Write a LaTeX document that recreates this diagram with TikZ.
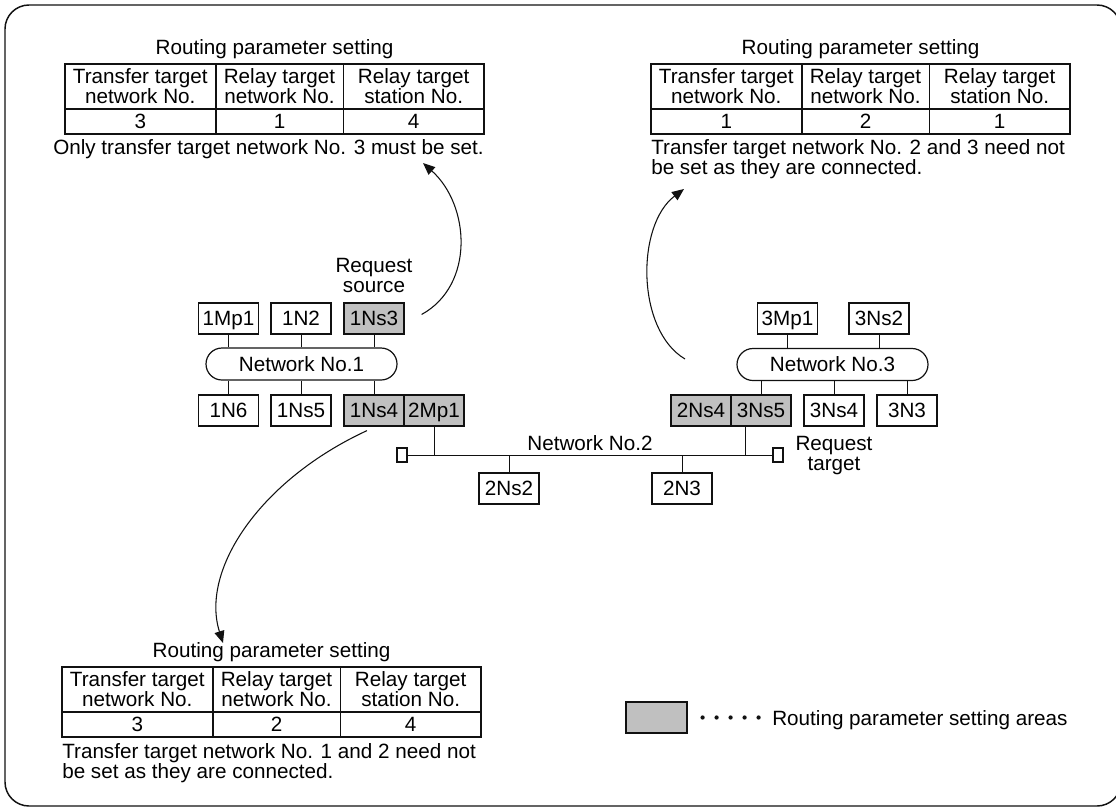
\documentclass[tikz,border=0pt]{standalone}
\usepackage{fontspec}
\setmainfont{Liberation Sans}
\usetikzlibrary{positioning,arrows.meta,calc}
\definecolor{ink}{HTML}{111111}
\definecolor{area}{HTML}{C0C0C0}

\tikzset{
  stn/.style={draw=ink,line width=0.9pt,minimum width=45pt,minimum height=23.25pt,inner sep=0pt,text height=11pt,text depth=0pt},
  rpa/.style={stn,fill=area},
  netw/.style={draw=ink,line width=0.9pt,rounded corners=12pt,minimum width=143.25pt,minimum height=24pt,inner sep=0pt},
  term/.style={draw=ink,line width=0.8pt,minimum width=7.5pt,minimum height=10.5pt,inner sep=0pt},
  wire/.style={ink,line width=0.75pt},
  hcell/.style={draw=ink,line width=0.5pt,align=center,minimum height=33pt,inner sep=0pt},
  dcell/.style={draw=ink,line width=0.5pt,minimum height=18.75pt,inner sep=0pt},
  jump/.style={ink,line width=0.8pt,-{Triangle[length=9pt,width=7.5pt]}},
  txt/.style={inner sep=0pt,align=left}
}

% routing parameter table: prefix, top left corner, three values
\newcommand{\rptable}[5]{%
  \node[hcell,minimum width=112.5pt,anchor=north west] (#1h1) at (#2) {Transfer target\\network No.};
  \node[hcell,minimum width=95.25pt,anchor=west] (#1h2) at (#1h1.east) {Relay target\\network No.};
  \node[hcell,minimum width=105pt,anchor=west] (#1h3) at (#1h2.east) {Relay target\\station No.};
  \node[dcell,minimum width=112.5pt,anchor=north] (#1d1) at (#1h1.south) {#3};
  \node[dcell,minimum width=95.25pt,anchor=north] (#1d2) at (#1h2.south) {#4};
  \node[dcell,minimum width=105pt,anchor=north] (#1d3) at (#1h3.south) {#5};
  \draw[ink,line width=1.3pt] (#1h1.north west) rectangle (#1d3.south east);
  \node[anchor=base,inner sep=0pt] (#1t) at ($(#1h1.north west)!0.5!(#1h3.north east)+(0,-10)$) {Routing parameter setting};
}

\begin{document}
\begin{tikzpicture}[x=0.75pt,y=-0.75pt,font=\fontsize{15.5}{15}\selectfont]
  \useasboundingbox (0,0) rectangle (1116,807);
  \draw[ink,line width=1.1pt,rounded corners=18pt] (5,5) rectangle (1121,806);

  % tables
  \rptable{tl}{65,64}{3}{1}{4}
  \node[anchor=base west,inner sep=0pt] (tlnote) at (53,154) {Only transfer target network No. 3 must be set.};

  \rptable{tr}{651,64}{1}{2}{1}
  \node[txt,anchor=north west] (trnote) at (651,139) {Transfer target network No. 2 and 3 need not\\be set as they are connected.};

  \rptable{bl}{62,667}{3}{2}{4}
  \node[txt,anchor=north west] (blnote) at (62,743) {Transfer target network No. 1 and 2 need not\\be set as they are connected.};

  % network No.1
  \node[netw] (net1) at (301.5,364) {Network No.1};
  \node[stn] (n1mp1) at (228.5,318.5) {1Mp1};
  \node[stn] (n1n2) at (301,318.5) {1N2};
  \node[rpa] (n1ns3) at (374,318.5) {1Ns3};
  \node[stn] (n1n6) at (228.5,410.5) {1N6};
  \node[stn] (n1ns5) at (301,410.5) {1Ns5};
  \node[rpa] (n1ns4) at (374,410.5) {1Ns4};
  \node[rpa] (n2mp1) at (434,410.5) {2Mp1};
  \node[txt,align=center,anchor=north] (rsrc) at (374,258) {Request\\source};

  \foreach \s in {n1mp1,n1n2,n1ns3}
    \draw[wire] (\s.south) -- (\s.south |- net1.north);
  \foreach \s in {n1n6,n1ns5,n1ns4}
    \draw[wire] (\s.north) -- (\s.north |- net1.south);

  % network No.3
  \node[netw] (net3) at (832.5,364.5) {Network No.3};
  \node[stn] (n3mp1) at (787.5,318.5) {3Mp1};
  \node[stn] (n3ns2) at (879,318.5) {3Ns2};
  \node[rpa] (n2ns4) at (701,410.5) {2Ns4};
  \node[rpa] (n3ns5) at (761,410.5) {3Ns5};
  \node[stn] (n3ns4) at (834,410.5) {3Ns4};
  \node[stn] (n3n3) at (907,410.5) {3N3};

  \foreach \s in {n3mp1,n3ns2}
    \draw[wire] (\s.south) -- (\s.south |- net3.north);
  \foreach \s in {n3ns5,n3ns4,n3n3}
    \draw[wire] (\s.north) -- (\s.north |- net3.south);

  % network No.2
  \node[term] (t2a) at (402,455) {};
  \node[term] (t2b) at (778,455) {};
  \draw[wire] (t2a) -- (t2b);
  \node[anchor=base,inner sep=0pt] (net2) at (590,450) {Network No.2};
  \node[stn] (n2ns2) at (509,488.5) {2Ns2};
  \node[stn] (n2n3) at (682,488.5) {2N3};
  \coordinate (n3drop) at ($(n3ns5.south)+(-16,0)$);
  \draw[wire] (n2mp1.south) -- (n2mp1.south |- t2a.center);
  \draw[wire] (n3drop) -- (n3drop |- t2a.center);
  \draw[wire] (n2ns2.north) -- (n2ns2.north |- t2a.center);
  \draw[wire] (n2n3.north) -- (n2n3.north |- t2a.center);
  \node[txt,align=center,anchor=north] (rtgt) at (834,436) {Request\\target};

  % jumps to the settings
  \coordinate (c1s) at ($(n1ns3.east)+(17,-4)$);
  \coordinate (c1e) at (423,163);
  \draw[jump] (c1s) .. controls (475,285) and (470,205) .. (c1e);

  \coordinate (c2s) at (685,359);
  \coordinate (c2e) at (684,189);
  \draw[jump] (c2s) .. controls (636,330) and (636,225) .. (c2e);

  \coordinate (c3s) at ($(n1ns4.south)+(-7,4)$);
  \coordinate (c3e) at (223,643);
  \draw[jump] (c3s) .. controls (260,480) and (200,570) .. (c3e);

  % legend
  \node[rpa,minimum width=45.75pt] (lgbox) at (656.5,717.5) {};
  \foreach \i in {0,...,4}
    \fill[ink] ($(lgbox.east)+(15+14*\i,0)$) circle (1.6pt);
  \node[anchor=base west,inner sep=0pt] (lgtxt) at (772,725) {Routing parameter setting areas};
\end{tikzpicture}
\end{document}
